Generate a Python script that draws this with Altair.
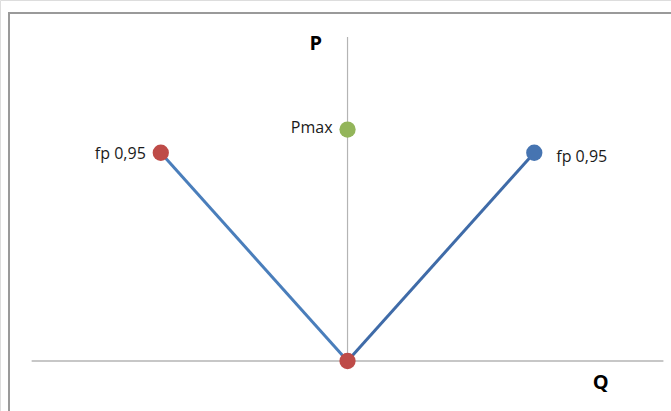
import altair as alt
import pandas as pd

# Power-factor operating diagram: P on the vertical axis, Q on the horizontal
seg_names = ["left", "left", "right", "right"]
seg_q = [-0.59, 0.0, 0.0, 0.59]
seg_p = [0.9, 0.0, 0.0, 0.9]
seg_colors = ["#4a7ebb", "#3f6ba8"]

pt_q = [-0.59, 0.0, 0.59, 0.0]
pt_p = [0.9, 0.0, 0.9, 1.0]
pt_colors = ["#be4b48", "#be4b48", "#4674b1", "#93b55a"]

label_text = ["fp 0,95", "Pmax", "fp 0,95"]
label_q = [-0.59, 0.0, 0.59]
label_p = [0.9, 1.0, 0.9]
label_dx = [-15, -15, 22]
label_dy = [1, -2, 4]
label_align = ["right", "right", "left"]

W, H = 671, 411
q_dom = [-1.098, 1.022]
p_dom = [-0.216, 1.560]

xs = alt.Scale(domain=q_dom, nice=False, zero=False)
ys = alt.Scale(domain=p_dom, nice=False, zero=False)
noax = dict(axis=None)

segs = pd.DataFrame({"s": seg_names, "q": seg_q, "p": seg_p})
pts = pd.DataFrame({"q": pt_q, "p": pt_p, "c": pt_colors})

# outer chart frame
frame = alt.Chart(pd.DataFrame({"a": [0]})).mark_rect(
    fill=None, stroke="#9a9a9a", strokeWidth=2
).encode(x=alt.value(9), x2=alt.value(690), y=alt.value(13), y2=alt.value(430))

# axis lines through the origin
q_axis = alt.Chart(pd.DataFrame({"q": [-0.998], "q2": [0.998], "p": [0.0]})).mark_rule(
    color="#b4b4b4", strokeWidth=1.5
).encode(x=alt.X("q:Q", scale=xs, **noax), x2="q2", y=alt.Y("p:Q", scale=ys, **noax))
p_axis = alt.Chart(pd.DataFrame({"q": [0.0], "p": [0.0], "p2": [1.4]})).mark_rule(
    color="#b4b4b4", strokeWidth=1.2
).encode(x=alt.X("q:Q", scale=xs, **noax), y=alt.Y("p:Q", scale=ys, **noax), y2="p2")

lines = alt.Chart(segs).mark_line(strokeWidth=3).encode(
    x=alt.X("q:Q", scale=xs, **noax),
    y=alt.Y("p:Q", scale=ys, **noax),
    color=alt.Color("s:N", scale=alt.Scale(domain=["left", "right"], range=seg_colors), legend=None),
    detail="s:N",
)

points = alt.Chart(pts).mark_circle(size=265, opacity=1).encode(
    x=alt.X("q:Q", scale=xs, **noax),
    y=alt.Y("p:Q", scale=ys, **noax),
    color=alt.Color("c:N", scale=None),
)

labels = []
for t, q, p, dx, dy, al in zip(label_text, label_q, label_p, label_dx, label_dy, label_align):
    labels.append(
        alt.Chart(pd.DataFrame({"q": [q], "p": [p], "t": [t]})).mark_text(
            align=al, baseline="middle", dx=dx, dy=dy, font="Open Sans", fontSize=16, color="#1a1a1a"
        ).encode(x=alt.X("q:Q", scale=xs, **noax), y=alt.Y("p:Q", scale=ys, **noax), text="t:N")
    )

axis_titles = alt.Chart(pd.DataFrame({"q": [-0.10, 0.80], "p": [1.37, -0.095], "t": ["P", "Q"]})).mark_text(
    font="Open Sans", fontSize=20, fontWeight="bold", color="#000000"
).encode(x=alt.X("q:Q", scale=xs, **noax), y=alt.Y("p:Q", scale=ys, **noax), text="t:N")

chart = alt.layer(frame, q_axis, p_axis, lines, points, *labels, axis_titles).properties(
    width=W, height=H, padding=0, autosize=alt.AutoSizeParams(type="none")
).configure_view(stroke=None).configure(background="white")

chart.save("out.html", embed_options={"renderer": "svg", "actions": False})
